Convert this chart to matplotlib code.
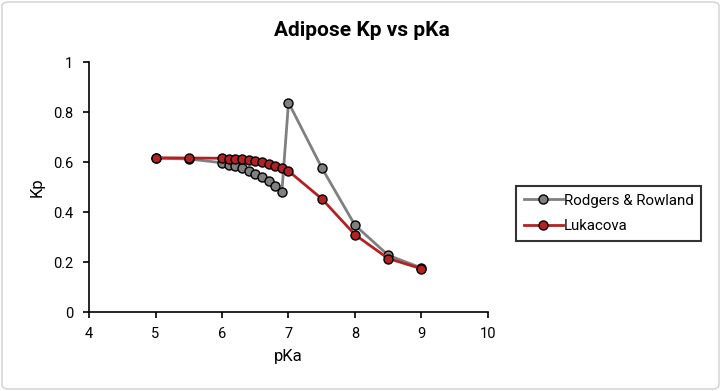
import matplotlib
matplotlib.use("Agg")
import matplotlib.pyplot as plt
from matplotlib.patches import FancyBboxPatch

plt.rcParams['font.family'] = ['Roboto', 'DejaVu Sans']

pka = [5, 5.5, 6, 6.1, 6.2, 6.3, 6.4, 6.5, 6.6, 6.7, 6.8, 6.9, 7, 7.5, 8, 8.5, 9]
rodgers = [0.615, 0.612, 0.597, 0.590, 0.583, 0.575, 0.565, 0.553, 0.540, 0.525, 0.503, 0.480,
           0.838, 0.577, 0.347, 0.227, 0.176]
lukacova = [0.617, 0.616, 0.615, 0.614, 0.613, 0.611, 0.608, 0.605, 0.600, 0.593, 0.585, 0.576,
            0.564, 0.453, 0.309, 0.214, 0.173]

fig = plt.figure(figsize=(7.21, 3.91), dpi=100)
ax = fig.add_axes([89/721, 1-312/391, (488-89)/721, (312-62)/391])

ax.plot(pka, rodgers, color='#808080', lw=2, marker='o', ms=6.5,
        mfc='#808080', mec='black', mew=1, label='Rodgers & Rowland')
ax.plot(pka, lukacova, color='#b22222', lw=2, marker='o', ms=6.5,
        mfc='#b22222', mec='black', mew=1, label='Lukacova')

ax.set_xlim(4, 10)
ax.set_ylim(0, 1)
ax.set_xticks([4, 5, 6, 7, 8, 9, 10])
ax.set_yticks([0, 0.2, 0.4, 0.6, 0.8, 1])
ax.set_yticklabels(['0', '0.2', '0.4', '0.6', '0.8', '1'])
for s in ['top', 'right']:
    ax.spines[s].set_visible(False)
for s in ['left', 'bottom']:
    ax.spines[s].set_color('black')
    ax.spines[s].set_linewidth(1.2)
ax.tick_params(direction='out', length=4.5, width=1.2, labelsize=10.5, colors='black')
ax.tick_params(axis='y', pad=7)
ax.tick_params(axis='x', pad=6)

ax.set_xlabel('pKa', fontsize=12, labelpad=6)
ax.set_ylabel('Kp', fontsize=12, labelpad=6)
fig.text(362/721, 1-30/391, 'Adipose Kp vs pKa', ha='center', va='center',
         fontsize=15, fontweight='bold')

leg = ax.legend(loc='upper left', bbox_to_anchor=(516/721, 1-186/391),
                bbox_transform=fig.transFigure, frameon=True, fancybox=False,
                edgecolor='black', fontsize=10.8, handlelength=2.6, handletextpad=0.1,
                borderpad=0.5, labelspacing=0.8, borderaxespad=0)
leg.get_frame().set_linewidth(1.5)

border = FancyBboxPatch((2/721, 2/391), 717/721, 387/391,
                        boxstyle='round,pad=0,rounding_size=0.01',
                        transform=fig.transFigure, fill=False,
                        edgecolor='#d0d0d0', lw=1)
fig.patches.append(border)

fig.savefig('out.png', dpi=100)
